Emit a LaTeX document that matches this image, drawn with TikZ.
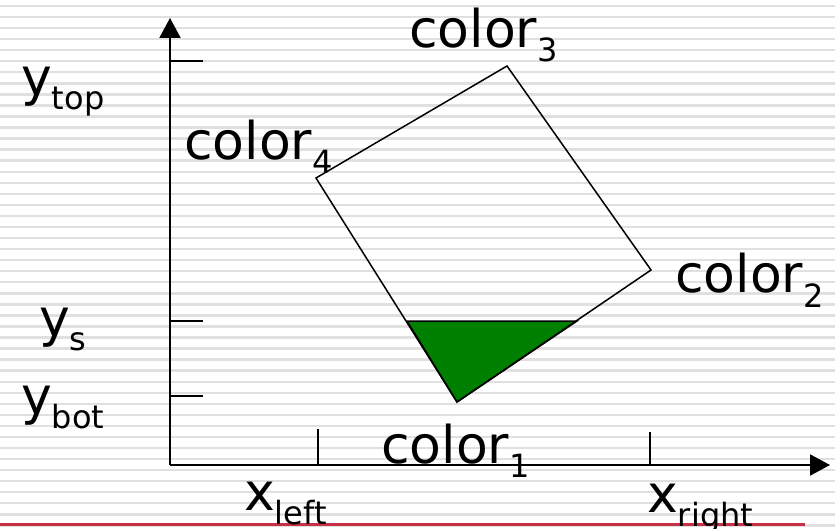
\documentclass[tikz,border=0pt]{standalone}
\usepackage{fontspec}
\setmainfont{DejaVu Sans}
\usetikzlibrary{arrows.meta}

\definecolor{stripegray}{RGB}{224,224,224}
\definecolor{slidered}{RGB}{200,48,72}
\definecolor{fillgreen}{RGB}{0,128,0}

\newcommand{\lowsub}[1]{\raisebox{-14pt}{\fontsize{32}{32}\selectfont #1}}

\begin{document}
\begin{tikzpicture}[
    x=1pt, y=-1pt,
    stripe/.style={fill=stripegray},
    axis/.style={line width=2pt, -{Triangle[length=20pt,width=21pt]}},
    tick/.style={line width=1.5pt},
    quad/.style={line width=1.5pt, line join=miter},
    lbl/.style={anchor=base west, inner sep=0pt, font=\fontsize{52}{56}\selectfont}
]

% Page and background lines
\useasboundingbox (0,0) rectangle (835,529);
\fill[white] (0,0) rectangle (835,529);
\foreach \i in {0,...,47}
  \fill[stripe] (0,{4.8+\i*11.05}) rectangle ++(835,2.4);
\draw[slidered, line width=3pt] (0,524) -- (805,524);

% Axes
\coordinate (origin) at (170,465);
\coordinate (ytip) at (170,18);
\coordinate (xtip) at (830,465);
\draw[axis] (origin) -- (ytip);
\draw[axis] (origin) -- (xtip);

% Ticks
\coordinate (ytop) at (170,61);
\coordinate (ys) at (170,321);
\coordinate (ybot) at (170,396);
\coordinate (xleft) at (318,465);
\coordinate (xright) at (650,465);
\draw[tick] (ytop) -- ++(33,0);
\draw[tick] (ys) -- ++(33,0);
\draw[tick] (ybot) -- ++(33,0);
\draw[tick] (xleft) -- ++(0,-36);
\draw[tick] (xright) -- ++(0,-33);

% Polygon corners
\coordinate (c1) at (457,402);
\coordinate (c2) at (651,270);
\coordinate (c3) at (507,66);
\coordinate (c4) at (316,178);

% Scanline crossing at y_s
\coordinate (sl) at (407,321);
\coordinate (sr) at (577,321);
\filldraw[fillgreen, draw=black, quad] (sl) -- (sr) -- (c1) -- cycle;

% Polygon
\draw[quad] (c1) -- (c2) -- (c3) -- (c4) -- cycle;

% Labels
\node[lbl] (lc1) at (381,463) {color\lowsub{1}};
\node[lbl] (lc2) at (675,293) {color\lowsub{2}};
\node[lbl] (lc3) at (409,48) {color\lowsub{3}};
\node[lbl] (lc4) at (184,160) {color\lowsub{4}};
\node[lbl] (lytop) at (21,96) {y\lowsub{top}};
\node[lbl] (lys) at (39,336) {y\lowsub{s}};
\node[lbl] (lybot) at (21,414) {y\lowsub{bot}};
\node[lbl] (lxleft) at (244,510) {x\lowsub{left}};
\node[lbl] (lxright) at (647,512) {x\lowsub{right}};

\end{tikzpicture}
\end{document}
